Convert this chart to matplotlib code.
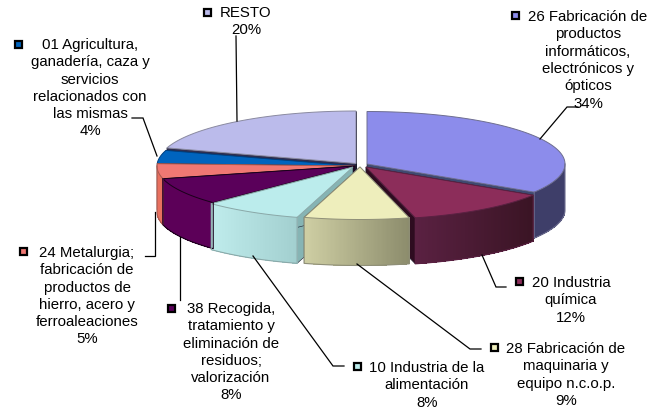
import numpy as np
import matplotlib
matplotlib.use('Agg')
import matplotlib.pyplot as plt
from matplotlib.colors import to_rgb
from matplotlib.patches import Polygon, Rectangle

plt.rcParams['font.family'] = ['Liberation Sans', 'DejaVu Sans']

# percentages, clockwise from the top of the pie
names = ['26 Fabricación de\nproductos\ninformáticos,\nelectrónicos y\nópticos',
         '20 Industria\nquímica',
         '28 Fabricación de\nmaquinaria y\nequipo n.c.o.p.',
         '10 Industria de la\nalimentación',
         '38 Recogida,\ntratamiento y\neliminación de\nresiduos;\nvalorización',
         '24 Metalurgia;\nfabricación de\nproductos de\nhierro, acero y\nferroaleaciones',
         '01 Agricultura,\nganadería, caza y\nservicios\nrelacionados con\nlas mismas',
         'RESTO']
values = [34.0, 12.0, 8.55, 8.15, 8.4, 4.6, 4.1, 20.2]

# slice styles
top_colors = ['#8C8CEB', '#8C2D5A', '#EEEEBC', '#BBECEC', '#5A005A', '#F07873', '#0064BE', '#BBBBEB']
wall_left = ['#3E3E69', '#5A2142', '#CFCFA4', '#BFECEC', '#5C0058', '#E8705F', '#004A8C', '#6A6A9A']
wall_right = ['#3E3E69', '#3A1424', '#8C8C6C', '#A2CFCF', '#5C0058', '#E8705F', '#004A8C', '#6A6A9A']
cut_colors = ['#3E4A70', '#2E0C20', '#8C8C6C', '#86B4B4', '#1E0020', '#A04040', '#00305A', '#2E2E50']
edge_colors = ['#6E6E90', '#5A2142', '#8F8F78', '#8AA8A8', '#1A001A', '#A85A50', '#004080', '#8A8AA0']

# layout, in pixels of the 653x410 image
centers = [(367, 165), (366, 168), (360, 168), (353, 168), (355, 167), (355, 167), (355, 167), (356, 164.5)]
rx, ry, depth = 198, 52.5, 46
order = [7, 0, 6, 5, 4, 1, 3, 2]
label_pos = [(588, 17), (571, 283), (566, 349), (427, 368), (231, 309), (87, 253), (90, 45), (246, 13)]
key_pos = [(515, 16), (519, 282), (494, 348), (357, 367), (171, 309), (23, 252), (18, 45), (207, 13)]
leaders = [[(578, 108), (567, 108), (540, 140)],
           [(506, 288), (496, 288), (482, 256)],
           [(481, 350), (470, 350), (357, 265)],
           [(344, 367), (333, 367), (253, 257)],
           [(180, 301), (180, 238)],
           [(145, 257), (155, 257), (155, 213)],
           [(132, 119), (143, 119), (157, 157)],
           [(236, 37), (237, 122)]]
line_height = 17.3

fig = plt.figure(figsize=(6.53, 4.10), dpi=100)
ax = fig.add_axes([0, 0, 1, 1])
ax.set_xlim(0, 653)
ax.set_ylim(410, 0)
ax.axis('off')

edges = np.concatenate([[0], np.cumsum(values)]) / sum(values) * 2 * np.pi


def rim(cx, cy, a, b, n=80):
    t = np.linspace(a, b, n)
    return np.column_stack([cx + rx * np.sin(t), cy - ry * np.cos(t)])


def mix(c1, c2, f):
    return tuple((1 - f) * np.array(to_rgb(c1)) + f * np.array(to_rgb(c2)))


for i in order:
    cx, cy = centers[i]
    a, b = edges[i], edges[i + 1]
    arc = rim(cx, cy, a, b)
    tip = np.array([cx, cy])

    # the two cut faces
    for p in (arc[0], arc[-1]):
        quad = [tip, p, p + [0, depth], tip + [0, depth]]
        ax.add_patch(Polygon(quad, closed=True, facecolor=cut_colors[i], edgecolor='#1A1A2A', lw=0.4))

    # outer wall, only the part facing the viewer
    a2, b2 = max(a, np.pi / 2), min(b, 3 * np.pi / 2)
    if b2 > a2:
        wall = rim(cx, cy, a2, b2)
        xs = wall[:, 0]
        # strips overlap by one step so no seams show
        for k in range(len(wall) - 1):
            f = (max(xs) - xs[k]) / (max(xs) - min(xs))
            k2 = min(k + 2, len(wall) - 1)
            quad = [wall[k], wall[k2], wall[k2] + [0, depth], wall[k] + [0, depth]]
            col = mix(wall_left[i], wall_right[i], 1 - f)
            ax.add_patch(Polygon(quad, closed=True, facecolor=col, edgecolor='none', antialiased=False))
        low = wall + [0, depth]
        outline = np.vstack([wall[0], low, wall[-1]])
        ax.plot(outline[:, 0], outline[:, 1], color=edge_colors[i], lw=0.8)

    top = np.vstack([tip, arc])
    ax.add_patch(Polygon(top, closed=True, facecolor=top_colors[i], edgecolor=edge_colors[i], lw=0.7))

for pts in leaders:
    xs, ys = zip(*pts)
    ax.plot(xs, ys, color='black', lw=0.9, solid_joinstyle='miter')

for i in range(len(names)):
    text = names[i] + '\n%.0f%%' % values[i]
    x, y = label_pos[i]
    for j, line in enumerate(text.split('\n')):
        ax.text(x, y + j * line_height, line, ha='center', va='center', fontsize=10.8, color='black')
    kx, ky = key_pos[i]
    ax.add_patch(Rectangle((kx - 3.5, ky - 3.5), 7, 7, facecolor=top_colors[i], edgecolor='black', lw=1.6))

fig.savefig('out.png', dpi=100)
